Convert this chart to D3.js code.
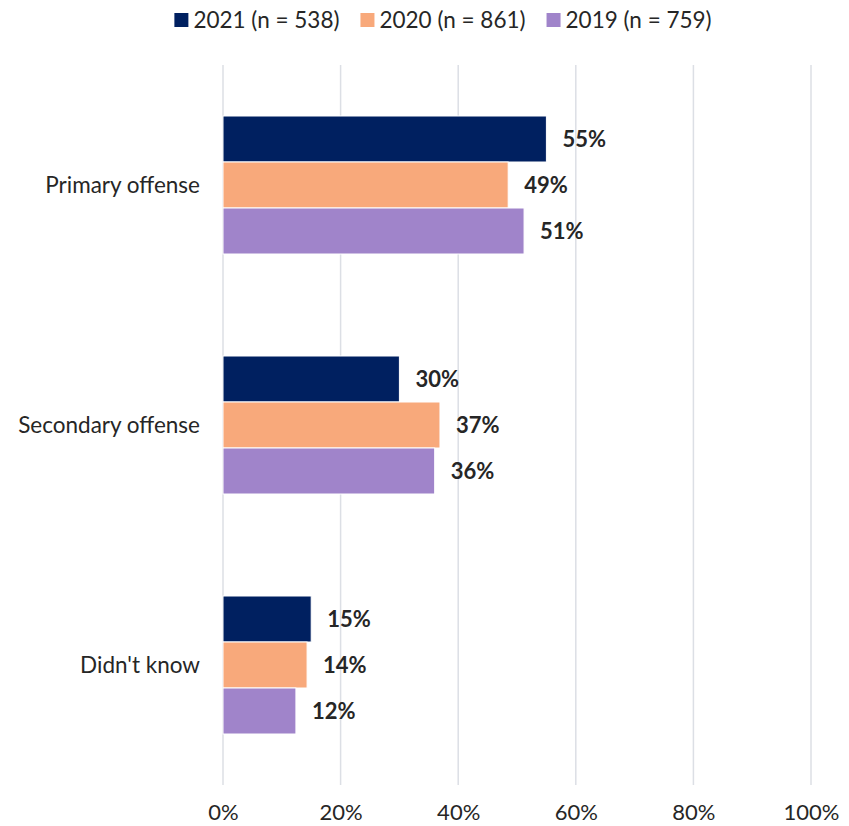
<!DOCTYPE html>
<html>
<head>
<meta charset="utf-8">
<script src="https://cdn.jsdelivr.net/npm/d3@7"></script>
<style>
  body { margin: 0; background: #fff; }
  svg text { font-family: Lato, "Open Sans", sans-serif; fill: #262626; }
  .cat { font-size: 22.5px; }
  .tick text { font-size: 22px; }
  .valuelabel { font-size: 22px; font-weight: bold; }
  .legendtxt { font-size: 22.5px; }
</style>
</head>
<body>
<svg id="chart" width="849" height="826"></svg>
<script>
// data
var categories = ["Primary offense", "Secondary offense", "Didn't know"];
var seriesNames = ["2021 (n = 538)", "2020 (n = 861)", "2019 (n = 759)"];
var seriesColors = ["#002060", "#F8A97B", "#A084CA"];
var values2021 = [55, 30, 15];
var values2020 = [48.5, 36.9, 14.3];
var values2019 = [51.2, 36.0, 12.4];
var xTicks = [0, 20, 40, 60, 80, 100];

var series = [values2021, values2020, values2019];

var svg = d3.select("#chart");

var plotLeft = 223, plotRight = 811, plotTop = 65, plotBottom = 785;

var x = d3.scaleLinear().domain([0, 100]).range([plotLeft, plotRight]);
var y = d3.scaleBand()
  .domain(categories)
  .range([plotTop, plotBottom])
  .paddingInner(0.425)
  .paddingOuter(0.2125);
var ySub = d3.scaleBand()
  .domain(d3.range(series.length))
  .range([0, y.bandwidth()]);

// gridlines
svg.append("g")
  .selectAll("line")
  .data(xTicks)
  .enter()
  .append("line")
  .attr("x1", function(d){ return x(d); })
  .attr("x2", function(d){ return x(d); })
  .attr("y1", plotTop)
  .attr("y2", plotBottom)
  .attr("stroke", "#dcdfe5")
  .attr("stroke-width", 1.5);

// x axis labels
var xAxis = d3.axisBottom(x)
  .tickValues(xTicks)
  .tickSize(0)
  .tickPadding(0)
  .tickFormat(function(d){ return d + "%"; });

var axisG = svg.append("g")
  .attr("transform", "translate(0," + 820 + ")")
  .call(xAxis);
axisG.select(".domain").remove();
axisG.selectAll(".tick text").attr("dy", 0).attr("fill", null);

// category labels
svg.append("g")
  .selectAll("text")
  .data(categories)
  .enter()
  .append("text")
  .attr("class", "cat")
  .attr("x", 200)
  .attr("y", function(d){ return y(d) + y.bandwidth() / 2; })
  .attr("dy", "0.35em")
  .attr("text-anchor", "end")
  .text(function(d){ return d; });

// bars
series.forEach(function(vals, si) {
  var g = svg.append("g").attr("class", "series-" + si);

  g.selectAll("rect")
    .data(vals)
    .enter()
    .append("rect")
    .attr("x", x(0))
    .attr("y", function(d, i){ return y(categories[i]) + ySub(si); })
    .attr("width", function(d){ return x(d) - x(0); })
    .attr("height", ySub.bandwidth())
    .attr("fill", seriesColors[si])
    .attr("stroke", "#fff")
    .attr("stroke-width", 1);

  g.selectAll("text")
    .data(vals)
    .enter()
    .append("text")
    .attr("class", "valuelabel")
    .attr("x", function(d){ return x(d) + 16; })
    .attr("y", function(d, i){ return y(categories[i]) + ySub(si) + ySub.bandwidth() / 2; })
    .attr("dy", "0.35em")
    .text(function(d){ return Math.round(d) + "%"; });
});

// legend
const legendRectSize = 14;
const legendSpacing = 5;
const legendGap = 21;

var legend = svg.append("g");
var items = legend.selectAll("g.legenditem")
  .data(seriesNames)
  .enter()
  .append("g")
  .attr("class", "legenditem");

items.append("rect")
  .attr("width", legendRectSize)
  .attr("height", legendRectSize)
  .attr("y", 13)
  .attr("fill", function(d, i){ return seriesColors[i]; });

items.append("text")
  .attr("class", "legendtxt")
  .attr("x", legendRectSize + legendSpacing)
  .attr("y", 20)
  .attr("dy", "0.35em")
  .text(function(d){ return d; });

var offsets = [], cur = 0;
items.each(function() {
  offsets.push(cur);
  cur += legendRectSize + legendSpacing + this.querySelector("text").getComputedTextLength() + legendGap;
});
var total = cur - legendGap;
var startX = 443 - total / 2;
items.attr("transform", function(d, i){ return "translate(" + (startX + offsets[i]) + ",0)"; });
</script>
</body>
</html>
